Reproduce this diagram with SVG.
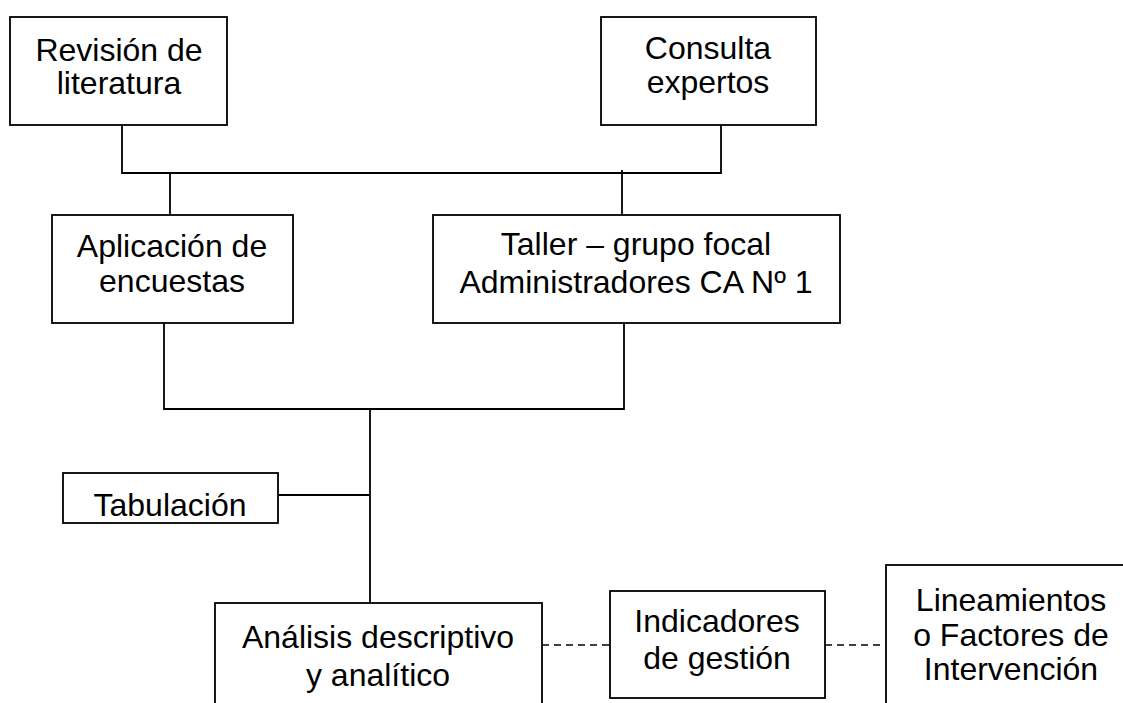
<svg xmlns="http://www.w3.org/2000/svg" width="1123" height="703" viewBox="0 0 1123 703">
<style>
.box{fill:#fff;stroke:#000;stroke-width:1.8}
.ln{fill:none;stroke:#000;stroke-width:1.8}
.dash{fill:none;stroke:#000;stroke-width:1.5;stroke-dasharray:7 5}
text{font-family:"Liberation Sans",Arial,sans-serif;font-size:32px;fill:#000;text-anchor:middle}
</style>
<defs>
<clipPath id="tabclip"><rect x="63" y="473" width="215" height="43"/></clipPath>
</defs>
<rect width="1123" height="703" fill="#fff"/>
<g id="connectors">
<polyline class="ln" points="122,125 122,173 721,173 721,125"/>
<line class="ln" x1="170" y1="173" x2="170" y2="215"/>
<line class="ln" x1="622" y1="170" x2="622" y2="215"/>
<polyline class="ln" points="164,323 164,409 624,409 624,323"/>
<line class="ln" x1="370" y1="409" x2="370" y2="603"/>
<line class="ln" x1="278" y1="495" x2="370" y2="495"/>
<line class="dash" x1="542" y1="645" x2="610" y2="645"/>
<line class="dash" x1="825" y1="645" x2="886" y2="645"/>
</g>
<g id="revision">
<rect class="box" x="10" y="17" width="217" height="108"/>
<text x="119" y="61">Revisión de</text>
<text x="119" y="94">literatura</text>
</g>
<g id="consulta">
<rect class="box" x="601" y="17" width="215" height="108"/>
<text x="708" y="59">Consulta</text>
<text x="708" y="93">expertos</text>
</g>
<g id="aplicacion">
<rect class="box" x="52" y="215" width="241" height="108"/>
<text x="172" y="257">Aplicación de</text>
<text x="172" y="292">encuestas</text>
</g>
<g id="taller">
<rect class="box" x="433" y="215" width="407" height="108"/>
<text x="636" y="255">Taller – grupo focal</text>
<text x="636" y="293">Administradores CA Nº 1</text>
</g>
<g id="tabulacion">
<rect class="box" x="63" y="473" width="215" height="50"/>
<text x="170" y="516" clip-path="url(#tabclip)">Tabulación</text>
</g>
<g id="analisis">
<rect class="box" x="215" y="603" width="327" height="110"/>
<text x="378" y="648">Análisis descriptivo</text>
<text x="378" y="686">y analítico</text>
</g>
<g id="indicadores">
<rect class="box" x="610" y="591" width="215" height="107"/>
<text x="717" y="632">Indicadores</text>
<text x="717" y="669">de gestión</text>
</g>
<g id="lineamientos">
<rect class="box" x="886" y="565" width="250" height="150"/>
<text x="1011" y="611">Lineamientos</text>
<text x="1011" y="646">o Factores de</text>
<text x="1011" y="680">Intervención</text>
</g>
</svg>
